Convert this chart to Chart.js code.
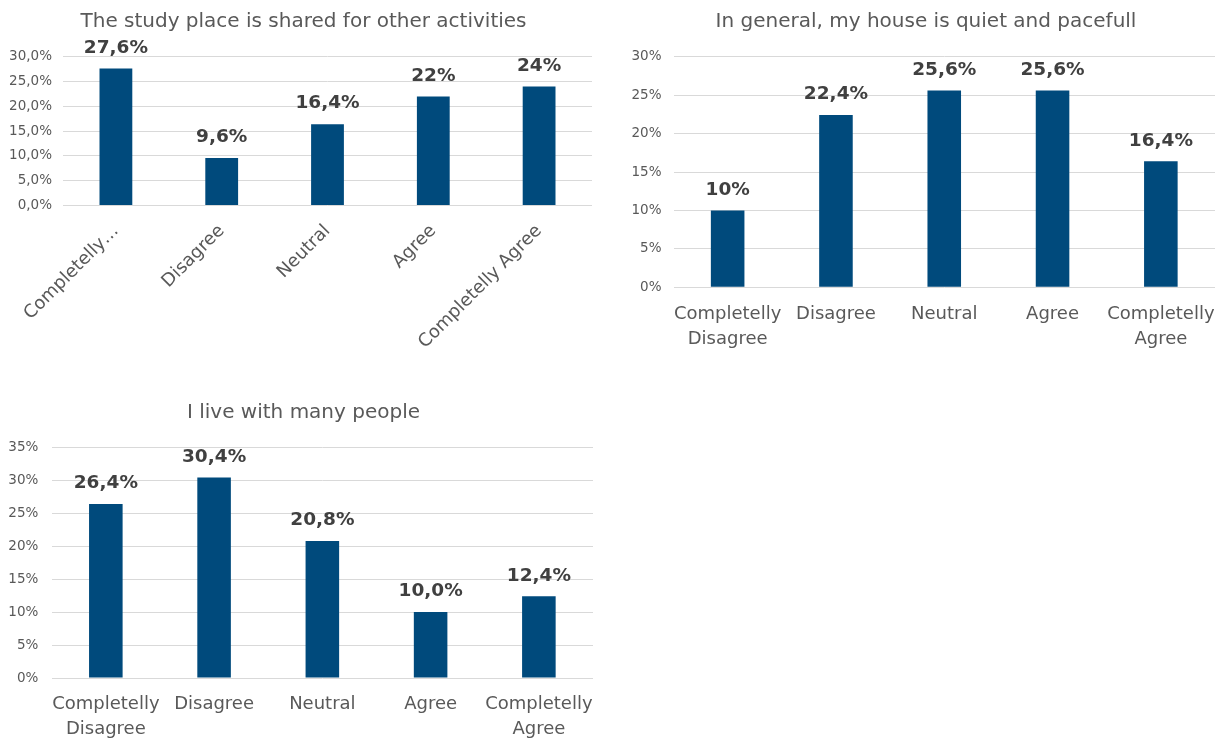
<!DOCTYPE html>
<html>
<head>
<meta charset="utf-8">
<script src="https://cdn.jsdelivr.net/npm/chart.js@4.4.1/dist/chart.umd.min.js"></script>
<style>
  html, body { margin: 0; padding: 0; background: #ffffff; }
  body { width: 1225px; height: 738px; position: relative; overflow: hidden; }
  canvas { position: absolute; }
  #c1 { left: 0; top: 0; }
  #c2 { left: 610px; top: 0; }
  #c3 { left: 0; top: 380px; }
</style>
</head>
<body>
<canvas id="c1" width="610" height="380"></canvas>
<canvas id="c2" width="615" height="380"></canvas>
<canvas id="c3" width="610" height="358"></canvas>
<script>
// Answer categories
const rotatedLabels = ['Completelly\u2026', 'Disagree', 'Neutral', 'Agree', 'Completelly Agree'];
const stackedLabels = [['Completelly', 'Disagree'], 'Disagree', 'Neutral', 'Agree', ['Completelly', 'Agree']];

// Survey results (% of respondents)
const sharedPlace = [27.6, 9.6, 16.4, 22, 24];
const quietHouse = [10, 22.4, 25.6, 25.6, 16.4];
const manyPeople = [26.4, 30.4, 20.8, 10.0, 12.4];

// Chart titles
const titles = [
  'The study place is shared for other activities',
  'In general, my house is quiet and pacefull',
  'I live with many people'
];

const BAR = '#004a7c';
const GRID = '#d9d9d9';
const AXIS_TEXT = '#595959';
const VALUE_TEXT = '#404040';
const FONT = "'DejaVu Sans', sans-serif";

Chart.defaults.font.family = FONT;
Chart.defaults.color = AXIS_TEXT;

const pct = (v, d) => v.toFixed(d).replace('.', ',') + '%';

// Bold value above each bar, positioned from the bar element
const valueLabels = {
  id: 'valueLabels',
  afterDatasetsDraw(chart, args, opts) {
    const ctx = chart.ctx;
    const meta = chart.getDatasetMeta(0);
    const data = chart.data.datasets[0].data;
    ctx.save();
    ctx.font = 'bold 18.5px ' + FONT;
    ctx.fillStyle = VALUE_TEXT;
    ctx.textAlign = 'center';
    ctx.textBaseline = 'middle';
    meta.data.forEach((bar, i) => {
      ctx.fillText(opts.format(data[i]), bar.x, bar.y - 20.5);
    });
    ctx.restore();
  }
};

// Title drawn at a fixed spot above the plot
const plainTitle = {
  id: 'plainTitle',
  afterDraw(chart, args, opts) {
    const ctx = chart.ctx;
    ctx.save();
    ctx.font = '20px ' + FONT;
    ctx.fillStyle = AXIS_TEXT;
    ctx.textAlign = 'center';
    ctx.textBaseline = 'middle';
    ctx.fillText(opts.text, opts.x, opts.y);
    ctx.restore();
  }
};

function makeChart(id, cfg) {
  return new Chart(document.getElementById(id), {
    type: 'bar',
    data: {
      labels: cfg.labels,
      datasets: [{
        data: cfg.values,
        backgroundColor: BAR,
        barPercentage: 0.31,
        categoryPercentage: 1
      }]
    },
    plugins: [valueLabels, plainTitle],
    options: {
      responsive: false,
      animation: false,
      devicePixelRatio: 1,
      layout: { padding: cfg.padding },
      plugins: {
        legend: { display: false },
        tooltip: { enabled: false },
        title: { display: false },
        valueLabels: { format: cfg.valueFormat },
        plainTitle: cfg.title
      },
      scales: {
        x: {
          grid: { display: false },
          border: { display: false },
          ticks: cfg.xTicks,
          afterFit(scale) {
            scale.height = cfg.xHeight;
            scale.paddingLeft = 0;
            scale.paddingRight = 0;
          }
        },
        y: {
          min: 0,
          max: cfg.yMax,
          grid: { color: GRID, lineWidth: 1, drawTicks: false },
          border: { display: false },
          ticks: {
            stepSize: 5,
            padding: cfg.yPad,
            color: AXIS_TEXT,
            font: { size: 13.5 },
            callback: (v) => pct(v, cfg.yDecimals)
          },
          afterFit(scale) { scale.width = cfg.yWidth; }
        }
      }
    }
  });
}

makeChart('c1', {
  labels: rotatedLabels,
  values: sharedPlace,
  yMax: 30,
  yDecimals: 1,
  yWidth: 63,
  yPad: 11,
  xHeight: 174.5,
  padding: { top: 56.7, right: 18, bottom: 0, left: 0 },
  xTicks: { minRotation: 45, maxRotation: 45, padding: 7, color: AXIS_TEXT, font: { size: 18 }, autoSkip: false },
  valueFormat: (v) => pct(v, Number.isInteger(v) ? 0 : 1),
  title: { text: titles[0], x: 303.5, y: 22 }
});

makeChart('c2', {
  labels: stackedLabels,
  values: quietHouse,
  yMax: 30,
  yDecimals: 0,
  yWidth: 63.5,
  yPad: 12,
  xHeight: 92.7,
  padding: { top: 56.7, right: 10, bottom: 0, left: 0 },
  xTicks: { maxRotation: 0, padding: 6.5, color: AXIS_TEXT, font: { size: 18, lineHeight: 1.39 }, autoSkip: false },
  valueFormat: (v) => pct(v, Number.isInteger(v) ? 0 : 1),
  title: { text: titles[1], x: 316, y: 22 }
});

makeChart('c3', {
  labels: stackedLabels,
  values: manyPeople,
  yMax: 35,
  yDecimals: 0,
  yWidth: 51.7,
  yPad: 13.4,
  xHeight: 60,
  padding: { top: 67.3, right: 17, bottom: 0, left: 0 },
  xTicks: { maxRotation: 0, padding: 6, color: AXIS_TEXT, font: { size: 18, lineHeight: 1.39 }, autoSkip: false },
  valueFormat: (v) => pct(v, 1),
  title: { text: titles[2], x: 303.5, y: 33 }
});
</script>
</body>
</html>
